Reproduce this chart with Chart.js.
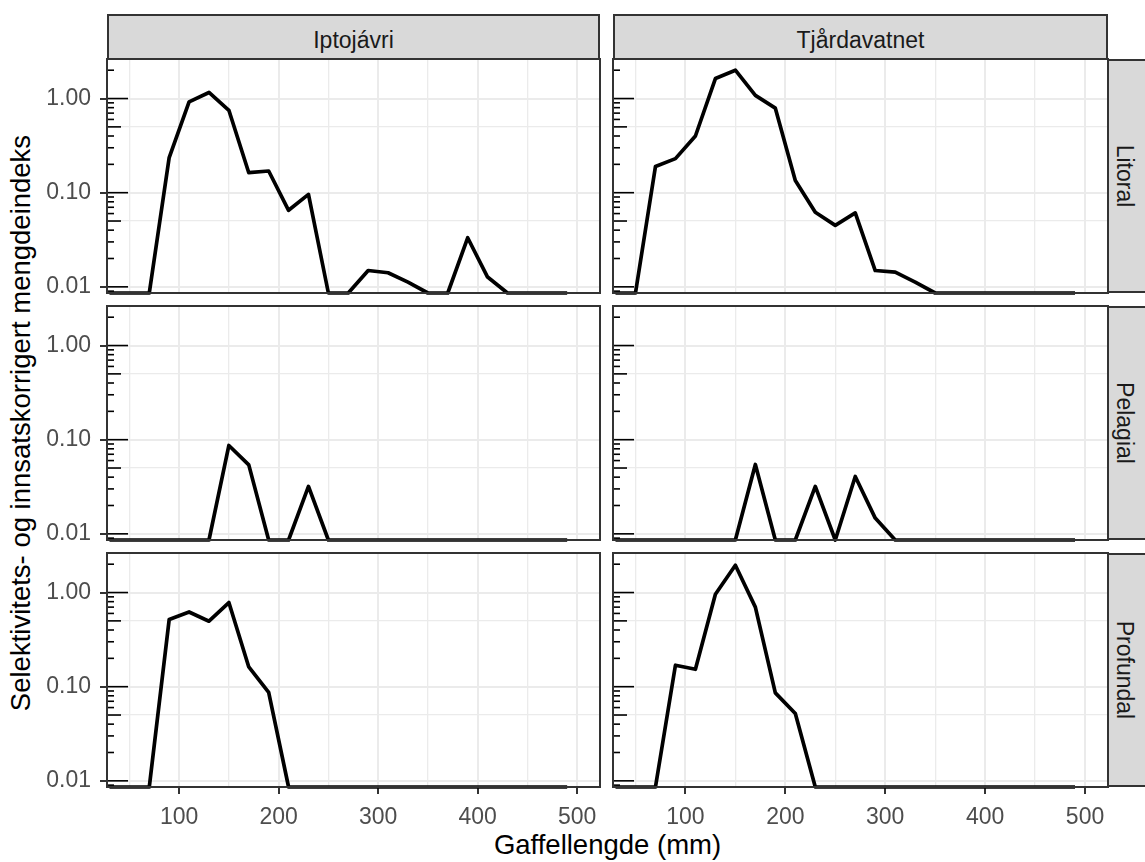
<!DOCTYPE html>
<html>
<head>
<meta charset="utf-8">
<script src="https://cdn.jsdelivr.net/npm/chart.js@4"></script>
<style>
  body { margin: 0; background: #fff; }
  #fig { position: relative; width: 1145px; height: 862px; overflow: hidden; font-family: 'Liberation Sans', Arial, sans-serif; }
  #fig canvas { position: absolute; }
  .strip { position: absolute; background: #D9D9D9; border: 2px solid #333; box-sizing: border-box; }
  .lbl { position: absolute; white-space: nowrap; line-height: 1; }
</style>
</head>
<body>
<div id="fig"></div>
<script>
// fork length classes (mm)
const lengths = [30, 50, 70, 90, 110, 130, 150, 170, 190, 210, 230, 250, 270, 290, 310, 330, 350, 370, 390, 410, 430, 450, 470, 490];

// selectivity/effort corrected index, 0 = none caught (drawn at panel bottom like -Inf)
const iptoLitoral    = [0, 0, 0, 0.236, 0.92, 1.16, 0.75, 0.163, 0.17, 0.065, 0.096, 0, 0, 0.0149, 0.0141, 0.0112, 0, 0, 0.0332, 0.0127, 0, 0, 0, 0];
const tjardLitoral   = [0, 0, 0.19, 0.23, 0.40, 1.63, 2.0, 1.08, 0.79, 0.135, 0.062, 0.045, 0.061, 0.0149, 0.0143, 0.0112, 0, 0, 0, 0, 0, 0, 0, 0];
const iptoPelagial   = [0, 0, 0, 0, 0, 0, 0.0868, 0.054, 0, 0, 0.0319, 0, 0, 0, 0, 0, 0, 0, 0, 0, 0, 0, 0, 0];
const tjardPelagial  = [0, 0, 0, 0, 0, 0, 0, 0.0546, 0, 0, 0.0319, 0, 0.0407, 0.0147, 0, 0, 0, 0, 0, 0, 0, 0, 0, 0];
const iptoProfundal  = [0, 0, 0, 0.517, 0.622, 0.496, 0.783, 0.162, 0.0868, 0, 0, 0, 0, 0, 0, 0, 0, 0, 0, 0, 0, 0, 0, 0];
const tjardProfundal = [0, 0, 0, 0.169, 0.153, 0.96, 1.95, 0.70, 0.086, 0.0519, 0, 0, 0, 0, 0, 0, 0, 0, 0, 0, 0, 0, 0, 0];

const lakes = ['Iptojávri', 'Tjårdavatnet'];
const habitats = ['Litoral', 'Pelagial', 'Profundal'];
const series = [
    [iptoLitoral, tjardLitoral],
    [iptoPelagial, tjardPelagial],
    [iptoProfundal, tjardProfundal]
];

const xBreaks = [100, 200, 300, 400, 500];
const xMinor = [50, 150, 250, 350, 450];
const yBreaks = [0.01, 0.1, 1];
const yLabels = ['0.01', '0.10', '1.00'];
const yMinor = [0.05, 0.5];
const yMin = 0.0086;
const yMax = 2.63;

const xTitle = 'Gaffellengde (mm)';
const yTitle = 'Selektivitets- og innsatskorrigert mengdeindeks';

// layout (px)
const cols = [[107, 600], [613, 1108]];
const rows = [[58.5, 292.5], [305.5, 539.5], [553, 787]];
const M = 6;
const font = "'Liberation Sans', Arial, sans-serif";

// annotation_logticks positions
const logTicks = [];
for (let e = -3; e <= 0; e++) {
    for (let m = 1; m <= 9; m++) {
        logTicks.push({ v: m * Math.pow(10, e), len: m === 1 ? 21 : (m === 5 ? 14 : 7) });
    }
}

const panelFrame = {
    id: 'panelFrame',
    afterDatasetsDraw(chart) {
        const { ctx, chartArea: a } = chart;
        const y = chart.scales.y;
        ctx.save();
        ctx.strokeStyle = '#000';
        ctx.lineWidth = 1.6;
        logTicks.forEach(t => {
            const py = y.getPixelForValue(t.v);
            if (py < a.top || py > a.bottom) return;
            ctx.beginPath();
            ctx.moveTo(a.left, py);
            ctx.lineTo(a.left + t.len, py);
            ctx.stroke();
        });
        ctx.strokeStyle = '#333333';
        ctx.lineWidth = 2;
        ctx.strokeRect(a.left, a.top, a.right - a.left, a.bottom - a.top);
        ctx.restore();
    }
};

const fig = document.getElementById('fig');

function addDiv(cls, style, text) {
    const d = document.createElement('div');
    d.className = cls;
    Object.assign(d.style, style);
    if (text) d.textContent = text;
    fig.appendChild(d);
    return d;
}

// strips
lakes.forEach((lake, c) => {
    const [x0, x1] = cols[c];
    addDiv('strip', { left: x0 + 'px', top: '14px', width: (x1 - x0) + 'px', height: (rows[0][0] - 14 + 1) + 'px' });
    addDiv('lbl', { left: ((x0 + x1) / 2) + 'px', top: '29px', fontSize: '23px', color: '#1A1A1A', transform: 'translateX(-50%)' }, lake);
});
habitats.forEach((hab, r) => {
    const [y0, y1] = rows[r];
    addDiv('strip', { left: (cols[1][1] - 1) + 'px', top: y0 + 'px', width: '46px', height: (y1 - y0) + 'px' });
    addDiv('lbl', { left: '1124px', top: ((y0 + y1) / 2) + 'px', fontSize: '23px', color: '#1A1A1A', transform: 'translate(-50%,-50%) rotate(90deg)' }, hab);
});

// axis titles
addDiv('lbl', { left: ((cols[0][0] + cols[1][1]) / 2) + 'px', top: '831px', fontSize: '27.5px', color: '#000', transform: 'translateX(-50%)' }, xTitle);
addDiv('lbl', { left: '20.5px', top: ((rows[0][0] + rows[2][1]) / 2) + 'px', fontSize: '27.5px', color: '#000', transform: 'translate(-50%,-50%) rotate(-90deg)' }, yTitle);

// panels
rows.forEach(([y0, y1], r) => {
    cols.forEach(([x0, x1], c) => {
        const padL = c === 0 ? x0 : M;
        const padB = r === rows.length - 1 ? 44 : 10;
        const w = (x1 - x0) + padL + M;
        const h = (y1 - y0) + M + padB;
        const canvas = document.createElement('canvas');
        canvas.width = w;
        canvas.height = h;
        canvas.style.left = (x0 - padL) + 'px';
        canvas.style.top = (y0 - M) + 'px';
        fig.appendChild(canvas);

        const showX = r === rows.length - 1;
        const showY = c === 0;
        const vals = series[r][c];

        new Chart(canvas.getContext('2d'), {
            type: 'line',
            data: {
                datasets: [{
                    // zero catches sit on the lower panel edge, as -Inf does in ggplot
                    data: vals.map((v, i) => ({ x: lengths[i], y: v > 0 ? v : yMin })),
                    borderColor: '#000',
                    borderWidth: 3.7,
                    borderJoinStyle: 'round',
                    pointRadius: 0,
                    tension: 0,
                    fill: false,
                    clip: 6
                }]
            },
            options: {
                responsive: false,
                animation: false,
                events: [],
                layout: { padding: { top: M, right: M, left: 0, bottom: 0 } },
                plugins: { legend: { display: false }, tooltip: { enabled: false } },
                scales: {
                    x: {
                        type: 'linear',
                        min: 27.5,
                        max: 523,
                        bounds: 'data',
                        afterBuildTicks: s => { s.ticks = xMinor.concat(xBreaks).sort((a, b) => a - b).map(v => ({ value: v })); },
                        afterFit: s => { s.height = padB; s.paddingLeft = 0; s.paddingRight = 0; s.paddingTop = 0; s.paddingBottom = 0; },
                        border: { display: false },
                        grid: {
                            color: '#EBEBEB',
                            lineWidth: ctx => xBreaks.includes(ctx.tick.value) ? 2 : 1.3,
                            drawTicks: showX,
                            tickLength: 7,
                            tickWidth: 2,
                            tickColor: ctx => xBreaks.includes(ctx.tick.value) ? '#333333' : 'rgba(0,0,0,0)'
                        },
                        ticks: {
                            display: showX,
                            autoSkip: false,
                            maxRotation: 0,
                            padding: 10,
                            color: '#4D4D4D',
                            font: { family: font, size: 23 },
                            callback: v => xBreaks.includes(v) ? String(v) : ''
                        }
                    },
                    y: {
                        type: 'logarithmic',
                        min: yMin,
                        max: yMax,
                        bounds: 'data',
                        afterBuildTicks: s => { s.ticks = yBreaks.concat(yMinor).sort((a, b) => a - b).map(v => ({ value: v })); },
                        afterFit: s => { s.width = padL; s.paddingLeft = 0; s.paddingRight = 0; s.paddingTop = 0; s.paddingBottom = 0; },
                        border: { display: false },
                        grid: {
                            color: '#EBEBEB',
                            lineWidth: ctx => yBreaks.includes(ctx.tick.value) ? 2 : 1.3,
                            drawTicks: showY,
                            tickLength: 7,
                            tickWidth: 2,
                            tickColor: ctx => yBreaks.includes(ctx.tick.value) ? '#333333' : 'rgba(0,0,0,0)'
                        },
                        ticks: {
                            display: showY,
                            autoSkip: false,
                            padding: 9,
                            color: '#4D4D4D',
                            font: { family: font, size: 23 },
                            callback: v => {
                                const i = yBreaks.indexOf(v);
                                return i >= 0 ? yLabels[i] : '';
                            }
                        }
                    }
                }
            },
            plugins: [panelFrame]
        });
    });
});
</script>
</body>
</html>
